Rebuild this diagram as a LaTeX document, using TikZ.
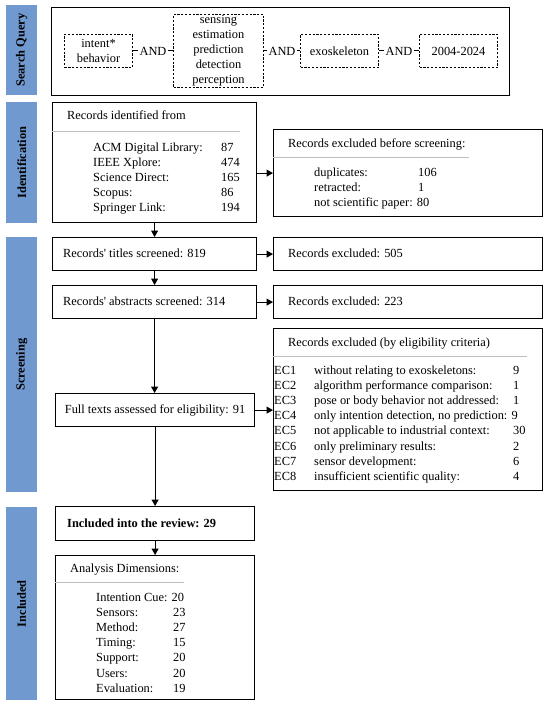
\documentclass[tikz,border=0pt]{standalone}
\usepackage{fontspec}
\setmainfont{Liberation Serif}
\usetikzlibrary{arrows.meta,calc}
\definecolor{barblue}{RGB}{112,153,207}
\definecolor{rulegray}{RGB}{190,190,190}
\begin{document}
\begin{tikzpicture}[x=1pt,y=-1pt,
  txt/.style={font=\fontsize{12.4}{15.2}\selectfont, inner sep=0pt},
  box/.style={draw=black, line width=1.2pt, inner sep=0pt, anchor=north west},
  dbox/.style={draw=black, line width=1pt, dash pattern=on 2.2pt off 1.6pt, inner sep=0pt, anchor=north west, align=center, font=\fontsize{12.4}{15}\selectfont},
  bar/.style={fill=barblue, draw=none, inner sep=0pt, anchor=north west, minimum width=31pt},
  barlabel/.style={rotate=90, font=\fontsize{12.4}{14}\selectfont\bfseries, inner sep=0pt},
  arr/.style={line width=1.2pt, -{Triangle[length=6.5pt,width=7pt]}},
  gline/.style={draw=rulegray, line width=1pt},
  andline/.style={line width=1pt}
]
\useasboundingbox (0,0) rectangle (550,706);

% side bars
\node[bar, minimum height=90pt] (b1) at (6,5) {};
\node[bar, minimum height=121pt] (b2) at (6,102) {};
\node[bar, minimum height=255pt] (b3) at (6,237) {};
\node[bar, minimum height=193pt] (b4) at (6,507) {};
\node[barlabel] at (b1.center) {Search Query};
\node[barlabel] at (b2.center) {Identification};
\node[barlabel] at (b3.center) {Screening};
\node[barlabel] at (b4.center) {Included};

% search query
\node[box, minimum width=458pt, minimum height=88pt] (sq) at (51,7) {};
\node[dbox, minimum width=68pt, minimum height=33pt] (q1) at (64,34) {intent*\\behavior};
\node[dbox, minimum width=90pt, minimum height=73pt] (q2) at (173,14) {sensing\\estimation\\prediction\\detection\\perception};
\node[dbox, minimum width=78pt, minimum height=33pt] (q3) at (300,34) {exoskeleton};
\node[dbox, minimum width=78pt, minimum height=33pt] (q4) at (419,34) {2004-2024};
\node[txt] (a1) at ($(q1.east)!0.5!(q2.west)$) {AND};
\node[txt] (a2) at ($(q2.east)!0.5!(q3.west)$) {AND};
\node[txt] (a3) at ($(q3.east)!0.5!(q4.west)$) {AND};
\draw[andline] (q1.east) -- ([xshift=-1pt]a1.west);
\draw[andline] ([xshift=1pt]a1.east) -- (q2.west |- a1.east);
\draw[andline] (q2.east |- a2.west) -- ([xshift=-1pt]a2.west);
\draw[andline] ([xshift=1pt]a2.east) -- (q3.west);
\draw[andline] (q3.east) -- ([xshift=-1pt]a3.west);
\draw[andline] ([xshift=1pt]a3.east) -- (q4.west);

% identification
\node[box, minimum width=204pt, minimum height=120pt] (id) at (52,102) {};
\node[txt, anchor=base west] at (67,120) {Records identified from};
\draw[gline] (id.west |- 0,131) -- (240,131);
\node[txt, anchor=base west] at (93,151) {\begin{tabular}[t]{@{}p{128pt}@{}l@{}}
ACM Digital Library: & 87\\
IEEE Xplore: & 474\\
Science Direct: & 165\\
Scopus: & 86\\
Springer Link: & 194
\end{tabular}};

\node[box, minimum width=269pt, minimum height=87pt] (exb) at (273,129) {};
\node[txt, anchor=base west] at (288,147) {Records excluded before screening:};
\draw[gline] (exb.west |- 0,157) -- (469,157);
\node[txt, anchor=base west] at (314,176) {\begin{tabular}[t]{@{}p{104pt}@{}l@{}}
duplicates: & 106\\
retracted: & 1\\
\multicolumn{2}{@{}l@{}}{not scientific paper: 80}
\end{tabular}};

% screening
\node[box, minimum width=204pt, minimum height=33pt] (ti) at (52,237) {};
\node[txt, anchor=west] at (63,253.5) {Records\textquotesingle\ titles screened: 819};
\node[box, minimum width=269pt, minimum height=33pt] (ex1) at (273,237) {};
\node[txt, anchor=west] at (288,253.5) {Records excluded: 505};

\node[box, minimum width=204pt, minimum height=33pt] (ab) at (52,285) {};
\node[txt, anchor=west] at (63,301.5) {Records\textquotesingle\ abstracts screened: 314};
\node[box, minimum width=269pt, minimum height=33pt] (ex2) at (273,285) {};
\node[txt, anchor=west] at (288,301.5) {Records excluded: 223};

\node[box, minimum width=269pt, minimum height=162pt] (ec) at (273,328) {};
\node[txt, anchor=base west] at (288,346) {Records excluded (by eligibility criteria)};
\draw[gline] (ec.west |- 0,356) -- (527,356);
\node[txt, anchor=base west] at (274,374) {\begin{tabular}[t]{@{}p{40pt}@{}p{199pt}@{}l@{}}
EC1 & without relating to exoskeletons: & 9\\
EC2 & algorithm performance comparison: & 1\\
EC3 & pose or body behavior not addressed: & 1\\
EC4 & \multicolumn{2}{@{}l@{}}{only intention detection, no prediction: 9}\\
EC5 & not applicable to industrial context: & 30\\
EC6 & only preliminary results: & 2\\
EC7 & sensor development: & 6\\
EC8 & insufficient scientific quality: & 4
\end{tabular}};

\node[box, minimum width=199pt, minimum height=33pt] (ft) at (55,393) {};
\node[txt] at (ft.center) {Full texts assessed for eligibility: 91};

% included
\node[box, minimum width=199pt, minimum height=34pt] (inc) at (55,506) {};
\node[txt, anchor=west, font=\fontsize{12.4}{15}\selectfont\bfseries] at (67,523) {Included into the review: 29};
\node[box, minimum width=199pt, minimum height=144pt] (an) at (55,555) {};
\node[txt, anchor=base west] at (70,572) {Analysis Dimensions:};
\draw[gline] (an.west |- 0,582) -- (184,582);
\node[txt, anchor=base west] at (96,601) {\begin{tabular}[t]{@{}p{77pt}@{}l@{}}
\multicolumn{2}{@{}l@{}}{Intention Cue: 20}\\
Sensors: & 23\\
Method: & 27\\
Timing: & 15\\
Support: & 20\\
Users: & 20\\
Evaluation: & 19
\end{tabular}};

% arrows
\draw[arr] (id.south) -- (ti.north);
\draw[arr] (ti.south) -- (ab.north);
\draw[arr] (ab.south) -- (ab.south |- ft.north);
\draw[arr] (ft.south) -- (inc.north);
\draw[arr] (inc.south) -- (an.north);
\draw[arr] (id.east |- exb.west) -- (exb.west);
\draw[arr] (ti.east) -- (ex1.west);
\draw[arr] (ab.east) -- (ex2.west);
\draw[arr] (ft.east) -- (ft.east -| ec.west);
\end{tikzpicture}
\end{document}
